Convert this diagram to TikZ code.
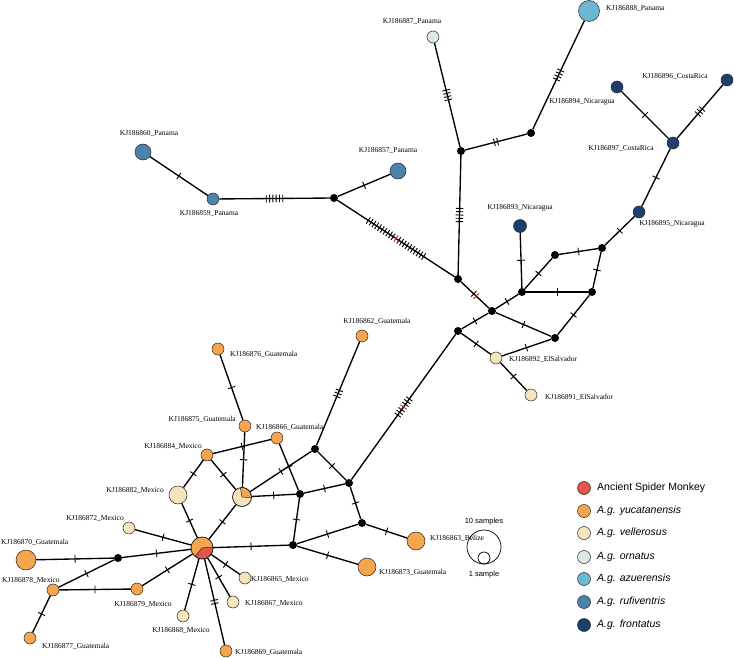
\documentclass[tikz,border=0pt]{standalone}
\usepackage{fontspec}
\setmainfont{Liberation Serif}
\newfontfamily\legfont{Liberation Sans}
\usetikzlibrary{decorations.markings}
\definecolor{anc}{HTML}{E5564A}
\definecolor{yuc}{HTML}{F5A64C}
\definecolor{vel}{HTML}{F6E5BC}
\definecolor{orn}{HTML}{DDE7E5}
\definecolor{azu}{HTML}{6CB8D3}
\definecolor{rufi}{HTML}{4A84AA}
\definecolor{fron}{HTML}{1E3F6E}
\definecolor{tred}{HTML}{E8281E}
\tikzset{
  hap/.style={circle,draw=black!85,line width=0.5pt,inner sep=0pt,minimum size=#1pt},
  med/.style={circle,fill=black,inner sep=0pt,minimum size=8pt},
  lab/.style={font=\fontsize{7.5}{8}\selectfont,inner sep=0pt},
  lnk/.style={line width=1.35pt,black},
  tk/.style={line width=0.9pt,black},
  tkred/.style={line width=1pt,tred},
  mut/.style 2 args={postaction={decorate,decoration={markings,
     mark=at position 0.5 with {
       \foreach \k in {1,...,#1}{
         \pgfmathsetmacro\toff{(\k-(#1+1)/2)*3.3}
         \ifnum\k=#2\relax
           \draw[tkred] (\toff pt,-3.8pt) -- (\toff pt,3.8pt);
         \else
           \draw[tk] (\toff pt,-3.8pt) -- (\toff pt,3.8pt);
         \fi
       }}}}},
  mk/.style={mut={#1}{0}},
  legtxt/.style={font=\legfont\fontsize{10.5}{12}\selectfont,anchor=west,inner sep=0pt},
  legdot/.style={circle,draw=black!85,line width=0.5pt,inner sep=0pt,minimum size=13pt},
}
\begin{document}
\begin{tikzpicture}[x=1pt,y=-1pt]
\useasboundingbox[fill=white] (0,0) rectangle (734,658);
% ---------- haplotype and median nodes ----------
\node[hap=16,fill=rufi] (n860) at (143,152) {};
\node[hap=12,fill=rufi] (n859) at (213,199) {};
\node[med] (a1) at (334,198) {};
\node[hap=16,fill=rufi] (n857) at (398,171) {};
\node[med] (b1) at (458,279) {};
\node[med] (b2) at (461,151) {};
\node[hap=12,fill=orn] (n887) at (433,37) {};
\node[med] (b3) at (531,133) {};
\node[hap=21,fill=azu] (n888) at (589,11) {};
\node[med] (c1) at (602,248) {};
\node[hap=12,fill=fron] (n895) at (639,212) {};
\node[hap=12,fill=fron] (n897) at (673,143) {};
\node[hap=12,fill=fron] (n896) at (617,87) {};
\node[hap=12,fill=fron] (n896b) at (727,80) {};
\node[hap=13,fill=fron] (n893) at (520,226) {};
\node[med] (c2) at (555,255) {};
\node[med] (c3) at (522,292) {};
\node[med] (c4) at (592,292) {};
\node[med] (c5) at (492,311) {};
\node[med] (c6) at (458,331) {};
\node[med] (c7) at (555,338) {};
\node[hap=12,fill=vel] (n892) at (496,358) {};
\node[hap=12,fill=vel] (n891) at (531,395) {};
\node[med] (d1) at (349,483) {};
\node[med] (d2) at (315,449) {};
\node[med] (d3) at (300,494) {};
\node[med] (d4) at (362,523) {};
\node[med] (d5) at (293,545) {};
\node[hap=18,fill=yuc] (n863) at (416,541) {};
\node[hap=18,fill=yuc] (n873) at (367,567) {};
\node[hap=12,fill=yuc] (n862) at (362,336) {};
\node[hap=19,fill=vel] (P) at (242,497) {};
\node[hap=12,fill=yuc] (n875) at (245,426) {};
\node[hap=12,fill=yuc] (n876) at (218,349) {};
\node[hap=12,fill=yuc] (n866) at (277,438) {};
\node[hap=12,fill=yuc] (n884) at (207,455) {};
\node[hap=18,fill=vel] (n882) at (178,495) {};
\node[hap=22,fill=yuc] (Q) at (202,548) {};
\node[hap=12,fill=vel] (n872) at (129,528) {};
\node[med] (e1) at (118,558) {};
\node[hap=20,fill=yuc] (n870) at (26,560) {};
\node[hap=12,fill=yuc] (n878) at (53,590) {};
\node[hap=12,fill=yuc] (n879) at (137,589) {};
\node[hap=12,fill=yuc] (n877) at (30,638) {};
\node[hap=12,fill=vel] (n868) at (183,616) {};
\node[hap=12,fill=yuc] (n869) at (226,651) {};
\node[hap=12,fill=vel] (n867) at (233,602) {};
\node[hap=12,fill=vel] (n865) at (245,578) {};
% pie sectors
\filldraw[fill=yuc,draw=black!85,line width=0.5pt] (P.center) -- ++(-5:9.5pt) arc[start angle=-5,end angle=100,radius=9.5pt] -- cycle;
\draw[black!85,line width=0.5pt] (P.center) circle[radius=9.5pt];
\filldraw[fill=anc,draw=black!85,line width=0.5pt] (Q.center) -- ++(230:11pt) arc[start angle=230,end angle=365,radius=11pt] -- cycle;
\draw[black!85,line width=0.5pt] (Q.center) circle[radius=11pt];
% ---------- connectors ----------
\draw[lnk,mk=1] (n860) -- (n859);
\draw[lnk,mk=6] (n859) -- (a1);
\draw[lnk,mk=1] (a1) -- (n857);
\draw[lnk,mut={21}{11}] (a1) -- (b1);
\draw[lnk,mk=5] (b1) -- (b2);
\draw[lnk,mk=4] (b2) -- (n887);
\draw[lnk,mk=2] (b2) -- (b3);
\draw[lnk,mk=4] (b3) -- (n888);
\draw[lnk,mut={2}{2}] (b1) -- (c5);
\draw[lnk,mk=1] (c5) -- (c3);
\draw[lnk,mk=1] (c3) -- (n893);
\draw[lnk,mk=1] (c3) -- (c2);
\draw[lnk,mk=1] (c3) -- (c4);
\draw[lnk,mk=1] (c2) -- (c1);
\draw[lnk,mk=1] (c1) -- (c4);
\draw[lnk,mk=1] (c1) -- (n895);
\draw[lnk,mk=1] (n895) -- (n897);
\draw[lnk,mk=1] (n897) -- (n896);
\draw[lnk,mk=3] (n897) -- (n896b);
\draw[lnk,mk=1] (c4) -- (c7);
\draw[lnk,mk=1] (c5) -- (c7);
\draw[lnk,mk=1] (c5) -- (c6);
\draw[lnk,mk=1] (c6) -- (n892);
\draw[lnk,mk=1] (n892) -- (c7);
\draw[lnk,mk=1] (n892) -- (n891);
\draw[lnk,mut={7}{4}] (c6) -- (d1);
\draw[lnk,mk=1] (d1) -- (d2);
\draw[lnk,mk=3] (d2) -- (n862);
\draw[lnk,mk=1] (d2) -- (P);
\draw[lnk,mk=1] (d1) -- (d3);
\draw[lnk,mk=1] (d1) -- (d4);
\draw[lnk,mk=1] (d3) -- (P);
\draw[lnk,mk=1] (d3) -- (n866);
\draw[lnk,mk=1] (d3) -- (d5);
\draw[lnk,mk=1] (d5) -- (d4);
\draw[lnk,mk=1] (d4) -- (n863);
\draw[lnk,mk=1] (d5) -- (n873);
\draw[lnk,mk=1] (d5) -- (Q);
\draw[lnk,mk=1] (P) -- (n875);
\draw[lnk,mk=1] (n875) -- (n876);
\draw[lnk,mk=1] (n884) -- (n866);
\draw[lnk,mk=1] (n884) -- (P);
\draw[lnk,mk=1] (n884) -- (n882);
\draw[lnk,mk=1] (n882) -- (Q);
\draw[lnk,mk=1] (P) -- (Q);
\draw[lnk,mk=1] (Q) -- (n872);
\draw[lnk,mk=1] (Q) -- (e1);
\draw[lnk,mk=1] (e1) -- (n870);
\draw[lnk,mk=1] (e1) -- (n878);
\draw[lnk,mk=1] (n878) -- (n879);
\draw[lnk,mk=1] (n879) -- (Q);
\draw[lnk,mk=1] (n878) -- (n877);
\draw[lnk,mk=1] (Q) -- (n868);
\draw[lnk,mk=2] (Q) -- (n869);
\draw[lnk,mk=1] (Q) -- (n867);
\draw[lnk,mk=1] (Q) -- (n865);
% ---------- labels ----------
\node[lab] (l860) at (149,133) {KJ186860\_Panama};
\node[lab] (l859) at (209,213) {KJ186859\_Panama};
\node[lab] (l857) at (388,150) {KJ186857\_Panama};
\node[lab] (l887) at (412,21) {KJ186887\_Panama};
\node[lab,anchor=west] (l888) at (606,8) {KJ186888\_Panama};
\node[lab] (l894) at (582,102) {KJ186894\_Nicaragua};
\node[lab] (l896) at (675,76) {KJ186896\_CostaRica};
\node[lab] (l897) at (621,148) {KJ186897\_CostaRica};
\node[lab] (l895) at (672,224) {KJ186895\_Nicaragua};
\node[lab] (l893) at (520,208) {KJ186893\_Nicaragua};
\node[lab,anchor=west] (l892) at (509,359) {KJ186892\_ElSalvador};
\node[lab,anchor=west] (l891) at (545,397) {KJ186891\_ElSalvador};
\node[lab] (l862) at (377,321) {KJ186862\_Guatemala};
\node[lab,anchor=west] (l876) at (230,354) {KJ186876\_Guatemala};
\node[lab,anchor=east] (l875) at (236,419) {KJ186875\_Guatemala};
\node[lab,anchor=west] (l866) at (256,427) {KJ186866\_Guatemala};
\node[lab,anchor=east] (l884) at (202,446) {KJ186884\_Mexico};
\node[lab,anchor=east] (l882) at (164,490) {KJ186882\_Mexico};
\node[lab,anchor=east] (l872) at (124,518) {KJ186872\_Mexico};
\node[lab,anchor=west] (l870) at (1,542) {KJ186870\_Guatemala};
\node[lab,anchor=west] (l878) at (2,580) {KJ186878\_Mexico};
\node[lab] (l879) at (143,604) {KJ186879\_Mexico};
\node[lab,anchor=west] (l877) at (42,646) {KJ186877\_Guatemala};
\node[lab] (l868) at (181,630) {KJ186868\_Mexico};
\node[lab,anchor=west] (l869) at (235,652) {KJ186869\_Guatemala};
\node[lab,anchor=west] (l867) at (245,603) {KJ186867\_Mexico};
\node[lab,anchor=west] (l865) at (251,579) {KJ186865\_Mexico};
\node[lab,anchor=west] (l863) at (430,538) {KJ186863\_Belize};
\node[lab,anchor=west] (l873) at (379,572) {KJ186873\_Guatemala};
% ---------- size legend ----------
\node[circle,draw=black,line width=0.7pt,inner sep=0pt,minimum size=34pt] (big) at (484,547) {};
\node[circle,draw=black,line width=0.7pt,inner sep=0pt,minimum size=12pt] (small) at (484,558) {};
\node[font=\legfont\fontsize{7.5}{8}\selectfont,inner sep=0pt] (t10) at (484,522) {10 samples};
\node[font=\legfont\fontsize{7.5}{8}\selectfont,inner sep=0pt] (t1) at (484,575) {1 sample};
% ---------- colour legend ----------
\node[legdot,fill=anc] (g1) at (584,488) {};
\node[legtxt] (h1) at (597,488) {Ancient Spider Monkey};
\node[legdot,fill=yuc] (g2) at (584,511) {};
\node[legtxt] (h2) at (597,511) {\textit{A.g. yucatanensis}};
\node[legdot,fill=vel] (g3) at (584,533) {};
\node[legtxt] (h3) at (597,533) {\textit{A.g. vellerosus}};
\node[legdot,fill=orn] (g4) at (584,557) {};
\node[legtxt] (h4) at (597,557) {\textit{A.g. ornatus}};
\node[legdot,fill=azu] (g5) at (584,579) {};
\node[legtxt] (h5) at (597,579) {\textit{A.g. azuerensis}};
\node[legdot,fill=rufi] (g6) at (584,602) {};
\node[legtxt] (h6) at (597,602) {\textit{A.g. rufiventris}};
\node[legdot,fill=fron] (g7) at (584,625) {};
\node[legtxt] (h7) at (597,625) {\textit{A.g. frontatus}};
\end{tikzpicture}
\end{document}
